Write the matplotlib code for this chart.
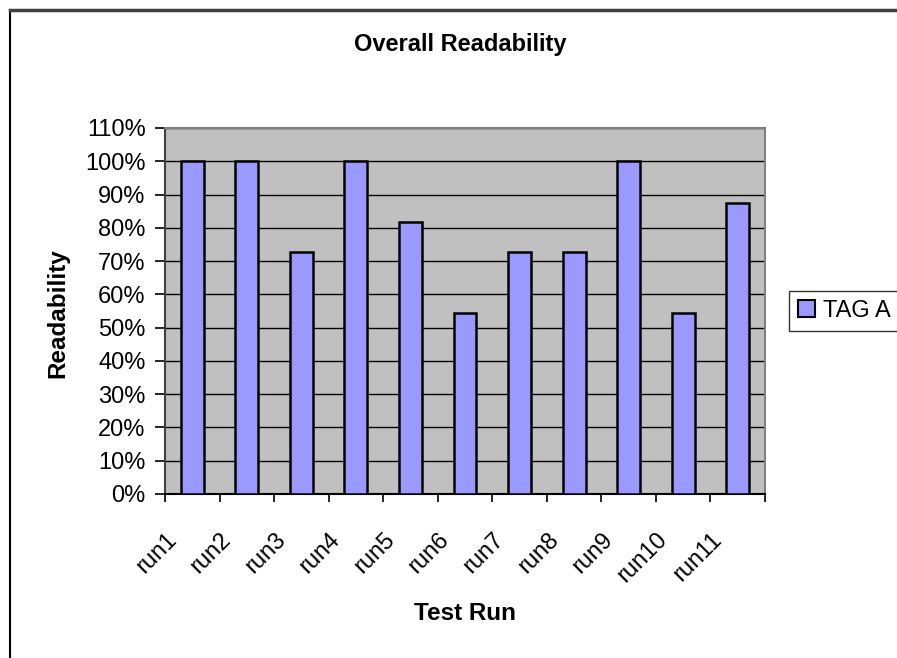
import numpy as np
import matplotlib.pyplot as plt
from matplotlib.lines import Line2D
from matplotlib.patches import Patch
from matplotlib.transforms import ScaledTranslation

runs = ['run1', 'run2', 'run3', 'run4', 'run5', 'run6', 'run7', 'run8', 'run9', 'run10', 'run11']
readability = [100, 100, 72.7, 100, 81.8, 54.5, 72.7, 72.7, 100, 54.5, 87.5]  # percent
yticks = list(range(0, 111, 10))

plt.rcParams['font.family'] = ['Liberation Sans', 'DejaVu Sans']

fig = plt.figure(figsize=(8.97, 6.58), dpi=100)
ax = fig.add_axes([165/897, 1-494/658, 600/897, 366/658])
ax.set_facecolor('#C0C0C0')

x = np.arange(len(runs))
ax.bar(x, readability, width=0.42, color='#9999FF', edgecolor='black', linewidth=1.8, zorder=3)

ax.set_xlim(-0.5, len(runs)-0.5)
ax.set_ylim(0, 110)
ax.set_yticks(yticks)
ax.set_yticklabels(['%d%%' % v for v in yticks], fontsize=17)
ax.yaxis.grid(True, color='black', linewidth=1.0, zorder=1)
ax.set_axisbelow(True)

# category labels at centres, tick marks on the boundaries (excel style)
ax.set_xticks(x)
ax.set_xticklabels(runs, fontsize=17, rotation=45, ha='right', va='center', rotation_mode='anchor')
ax.set_xticks(np.arange(-0.5, len(runs), 1.0), minor=True)
ax.tick_params(axis='x', which='major', length=0, pad=0)
ax.tick_params(axis='x', which='minor', length=6, width=1.2, direction='out')
ax.tick_params(axis='y', length=7, width=1.2, direction='out', pad=7)
for lab in ax.get_xticklabels():
    lab.set_transform(lab.get_transform() + ScaledTranslation(-0.19, -0.42, fig.dpi_scale_trans))

for s in ['top', 'right']:
    ax.spines[s].set_color('#808080')
    ax.spines[s].set_linewidth(1.5)
ax.spines['left'].set_color('#404040')
ax.spines['left'].set_linewidth(1.5)
ax.spines['bottom'].set_color('black')
ax.spines['bottom'].set_linewidth(1.5)

fig.text(460/897, 1-45/658, 'Overall Readability', fontsize=17, fontweight='bold', ha='center', va='center')
fig.text(465/897, 1-613/658, 'Test Run', fontsize=17.5, fontweight='bold', ha='center', va='center')
fig.text(58/897, 1-313/658, 'Readability', fontsize=17.5, fontweight='bold', ha='center', va='center', rotation=90)

leg = fig.legend(handles=[Patch(facecolor='#9999FF', edgecolor='black', linewidth=1.5, label='TAG A')],
                 loc='center left', bbox_to_anchor=(789/897, 1-311/658), fontsize=17,
                 frameon=True, fancybox=False, handlelength=0.7, handleheight=0.7,
                 handletextpad=0.35, borderpad=0.4, borderaxespad=0)
leg.get_frame().set_edgecolor('black')
leg.get_frame().set_linewidth(1.0)

# chart-area border, only left and top visible in the crop
fig.add_artist(Line2D([10/897, 10/897], [0, 1-10/658], color='black', linewidth=1.5, transform=fig.transFigure))
fig.add_artist(Line2D([10/897, 1], [1-10/658, 1-10/658], color='#404040', linewidth=2.5, transform=fig.transFigure))

fig.savefig('out.png', dpi=100)
